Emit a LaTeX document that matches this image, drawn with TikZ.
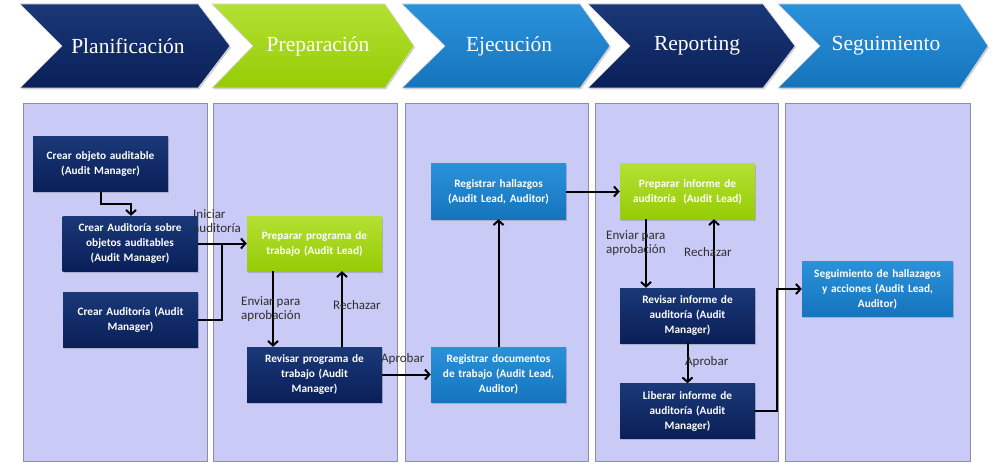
\documentclass[tikz,border=0pt]{standalone}
\usepackage{fontspec}
\setmainfont{Liberation Serif}
\newfontfamily\boxfont{Carlito}
\usetikzlibrary{arrows.meta,shadows}
\definecolor{navyA}{HTML}{1A3878}
\definecolor{navyB}{HTML}{0A1F58}
\definecolor{greenA}{HTML}{B4E033}
\definecolor{greenB}{HTML}{96CC05}
\definecolor{blueA}{HTML}{2A92DA}
\definecolor{blueB}{HTML}{1574BE}
\definecolor{lanefill}{HTML}{CACAF7}
\definecolor{laneborder}{HTML}{8E8E9E}
\definecolor{lblgray}{HTML}{2E2E2E}
\tikzset{
  chev/.style={draw=white!70!gray, line width=0.6pt, drop shadow={shadow xshift=1pt,shadow yshift=-1.5pt,opacity=0.35}},
  chevnavy/.style={chev, top color=navyA, bottom color=navyB},
  chevgreen/.style={chev, top color=greenA, bottom color=greenB},
  chevblue/.style={chev, top color=blueA, bottom color=blueB},
  chevtext/.style={text=white, font=\fontsize{21.5}{24}\selectfont},
  lane/.style={fill=lanefill, draw=laneborder, line width=0.8pt, drop shadow={shadow xshift=1pt,shadow yshift=-1pt,opacity=0.3}},
  box/.style={rectangle, inner sep=0pt, minimum width=135pt, minimum height=55pt, text width=134pt, align=center,
     text=white, font=\boxfont\bfseries\fontsize{11.3}{15}\selectfont,
     drop shadow={shadow xshift=1pt,shadow yshift=-1.5pt,opacity=0.4}},
  navybox/.style={box, top color=navyA, bottom color=navyB},
  greenbox/.style={box, top color=greenA, bottom color=greenB},
  bluebox/.style={box, top color=blueA, bottom color=blueB},
  arr/.style={line width=2pt, -{Straight Barb[length=4.5pt,width=10pt,line width=2pt]}},
  conn/.style={line width=2pt},
  lbl/.style={inner sep=0pt, text=lblgray, font=\boxfont\fontsize{13}{14.5}\selectfont, align=left},
}
\begin{document}
\begin{tikzpicture}[x=1pt,y=-1pt]
\useasboundingbox (0,0) rectangle (1000,465);
\fill[white] (0,0) rectangle (1000,465);
% chevrons
\path[chevnavy]  (20,4) -- (198,4) -- (230,46) -- (198,88) -- (20,88) -- (62,46) -- cycle;
\path[chevgreen] (212,4) -- (385,4) -- (414,46) -- (385,88) -- (212,88) -- (253,46) -- cycle;
\path[chevblue]  (402,4) -- (580,4) -- (610,46) -- (580,88) -- (402,88) -- (445,46) -- cycle;
\path[chevnavy]  (588,4) -- (763,4) -- (795,46) -- (763,88) -- (588,88) -- (630,46) -- cycle;
\path[chevblue]  (778,4) -- (960,4) -- (988,46) -- (960,88) -- (778,88) -- (820,46) -- cycle;
\node[chevtext] (t1) at (128,46) {Planificación};
\node[chevtext] (t2) at (318,46) {Preparación};
\node[chevtext] (t3) at (509,46) {Ejecución};
\node[chevtext] (t4) at (697,46) {Reporting};
\node[chevtext] (t5) at (886,46) {Seguimiento};
% lanes
\path[lane] (23,103) rectangle (207,461);
\path[lane] (213,103) rectangle (397,461);
\path[lane] (405,103) rectangle (588,461);
\path[lane] (595,103) rectangle (778,461);
\path[lane] (785,103) rectangle (970,461);
% boxes
\node[navybox] (b1) at (100.5,164) {Crear objeto auditable\\(Audit Manager)};
\node[navybox] (b2) at (130,243.5) {Crear Auditoría sobre\\objetos auditables\\(Audit Manager)};
\node[navybox] (b3) at (130.5,320) {Crear Auditoría (Audit\\Manager)};
\node[greenbox] (b4) at (314.5,243.5) {Preparar programa de\\trabajo (Audit Lead)};
\node[navybox] (b5) at (314.5,374.5) {Revisar programa de\\trabajo (Audit\\Manager)};
\node[bluebox] (b6) at (498.5,191.5) {Registrar hallazgos\\(Audit Lead, Auditor)};
\node[bluebox] (b7) at (498.5,374.5) {Registrar documentos\\de trabajo (Audit Lead,\\Auditor)};
\node[greenbox] (b8) at (687.5,191.5) {Preparar informe de\\auditoría\ \ (Audit Lead)};
\node[navybox] (b9) at (687.5,315.5) {Revisar informe de\\auditoría (Audit\\Manager)};
\node[navybox] (b10) at (687.5,411) {Liberar informe de\\auditoría (Audit\\Manager)};
\node[bluebox, minimum width=151pt, text width=150pt] (b11) at (877.5,289) {Seguimiento de hallazagos\\y acciones (Audit Lead,\\Auditor)};
% connectors
\draw[arr] (b1.south) -- ++(0,12) -| ([xshift=1pt]b2.north);
\draw[arr] (b2.east) -- (b4.west);
\coordinate (j) at (222,243.5);
\draw[conn] (b3.east) -| (j);
\draw[arr] ([xshift=-41.5pt]b4.south) -- ([xshift=-41.5pt]b5.north);
\draw[arr] ([xshift=27.5pt]b5.north) -- ([xshift=27.5pt]b4.south);
\draw[arr] (b5.east) -- (b7.west);
\draw[arr] (b7.north) -- (b6.south);
\draw[arr] (b6.east) -- (b8.west);
\draw[arr] ([xshift=-41.5pt]b8.south) -- ([xshift=-41.5pt]b9.north);
\draw[arr] ([xshift=26.5pt]b9.north) -- ([xshift=26.5pt]b8.south);
\draw[arr] (b9.south) -- (b10.north);
\coordinate (k) at (777,411);
\draw[arr] (b10.east) -- (k) |- (b11.west);
% labels
\node[lbl, anchor=south west] (l1) at (193,233) {Iniciar\\auditoría};
\node[lbl, anchor=north west] (l2) at (241,296) {Enviar para\\aprobación};
\node[lbl, anchor=west] (l3) at (333,305) {Rechazar};
\node[lbl, anchor=west] (l4) at (381,359) {Aprobar};
\node[lbl, anchor=north west] (l5) at (606,230) {Enviar para\\aprobación};
\node[lbl, anchor=west] (l6) at (684,252) {Rechazar};
\node[lbl, anchor=west] (l7) at (685,362) {Aprobar};
\end{tikzpicture}
\end{document}
